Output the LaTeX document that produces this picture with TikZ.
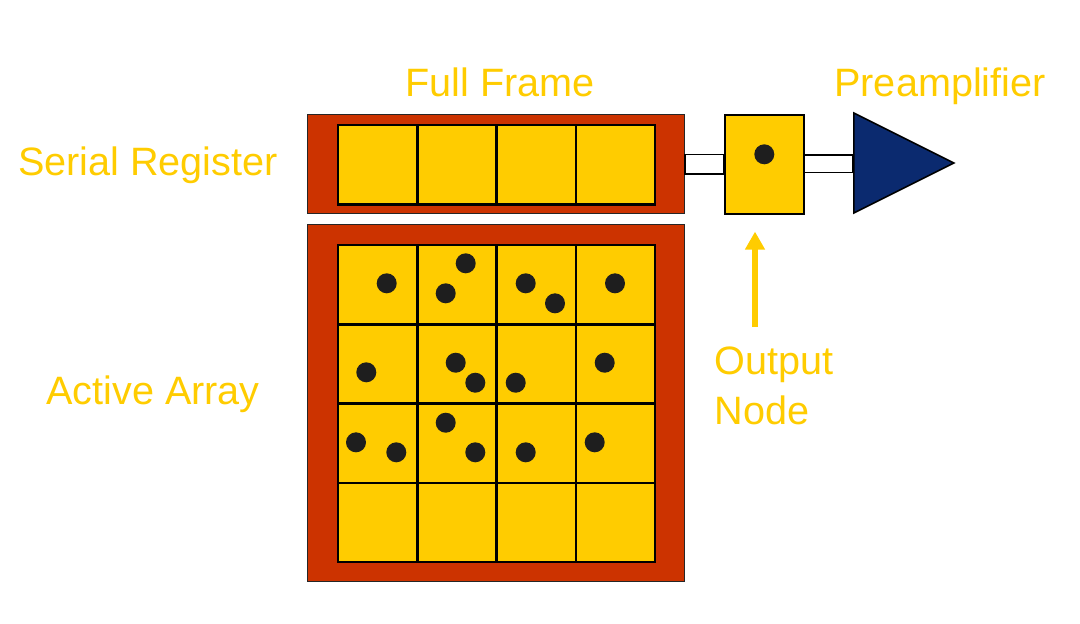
\documentclass[tikz,border=0pt]{standalone}
\usepackage{fontspec}
\setmainfont{Liberation Sans}
\usepackage{xcolor}
\usepackage{tikz}
\usetikzlibrary{shapes,arrows.meta,positioning,calc}

\definecolor{ccdred}{HTML}{CC3300}
\definecolor{pixyel}{HTML}{FFCC00}
\definecolor{ampblue}{HTML}{0B2A6F}
\definecolor{chgdot}{HTML}{1E1E1E}

\begin{document}
\begin{tikzpicture}[
    x=0.5pt, y=-0.5pt,
    frame/.style={rectangle, draw=black!85, fill=ccdred, line width=0.6pt, anchor=north west, inner sep=0pt, minimum width=188.5pt},
    pixel/.style={rectangle, draw=black, fill=pixyel, line width=1.2pt, minimum width=39.6pt, minimum height=39.6pt, anchor=north west, inner sep=0pt},
    wirebox/.style={draw=black, fill=white, line width=0.8pt},
    label/.style={text=pixyel, font=\fontsize{19.8}{25}\selectfont},
    charge/.style={fill=chgdot},
    arrow/.style={-{Triangle[width=9.5pt,length=9pt]}, line width=3pt, draw=pixyel},
]
    \useasboundingbox (0,0) rectangle (1080,623);

    % Serial register
    \node[frame, minimum height=49.5pt] (serreg) at (307,114) {};
    \foreach \c in {0,...,3}
        \node[pixel] (sr-\c) at ({337+79.25*\c},124) {};

    % Active array
    \node[frame, minimum height=178.5pt] (actarr) at (307,224) {};
    \foreach \r in {0,...,3}
        \foreach \c in {0,...,3}
            \node[pixel] (px-\r-\c) at ({337+79.25*\c},{244+79.25*\r}) {};

    % Charge packets
    \foreach \x/\y in {386.7/283.3, 465.7/263.3, 445.7/293.3, 525.7/283.3, 555/303.3, 615/283.3,
                       366.3/372.3, 455.7/362.7, 475.3/382.7, 515.7/382.7, 604.7/362.7,
                       356/442.3, 396.3/452.3, 445.7/422.7, 475.3/452.3, 525.7/452.3, 594.7/442.3}
        \fill[charge] (\x,\y) circle [radius=5pt];

    % Output node + preamplifier
    \node[rectangle, draw=black, fill=pixyel, line width=0.8pt, anchor=north west, inner sep=0pt,
          minimum width=39.5pt, minimum height=49.5pt] (outnode) at (724,114) {};
    \fill[charge] (outnode.center) ++(0,-10) circle [radius=5pt];
    \node[isosceles triangle, isosceles triangle stretches, draw=black, fill=ampblue, line width=0.8pt,
          inner sep=0pt, minimum width=50pt, minimum height=50pt, anchor=lower side] (amp) at (853,163) {};

    % Wires
    \draw[wirebox] ([yshift=4.75pt]serreg.east) rectangle ([yshift=-4.75pt]outnode.west);
    \draw[wirebox] ([yshift=4.75pt]outnode.east) rectangle ([yshift=-4.75pt]amp.lower side);

    % Labels
    \node[label, anchor=base] (fulllbl) at (500,96) {Full Frame};
    \node[label, anchor=base] (amplbl) at (940,96) {Preamplifier};
    \node[label, anchor=base] (serlbl) at (148,175) {Serial Register};
    \node[label, anchor=base] (actlbl) at (153,404) {Active Array};
    \node[label, anchor=north west, align=left, inner sep=0pt] (outlbl) at (714,346) {Output\\Node};

    % Arrow to output node
    \coordinate (outtail) at (755,327);
    \draw[arrow, shorten >=8.5pt] (outtail) -- (outtail |- outnode.south);

\end{tikzpicture}
\end{document}
